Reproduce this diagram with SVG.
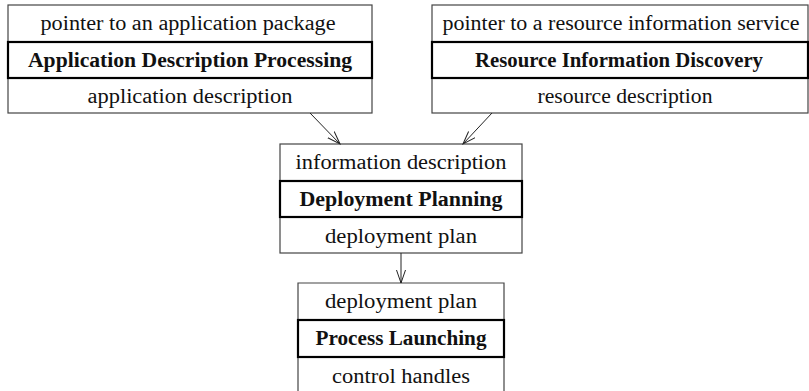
<svg xmlns="http://www.w3.org/2000/svg" width="809" height="391" viewBox="0 0 809 391">
<defs>
<style>
.outer{fill:#fff;stroke:#444;stroke-width:1.2}
.bold{fill:none;stroke:#000;stroke-width:2.2}
text{font-family:"Liberation Serif","DejaVu Serif",serif;font-size:20px;fill:#111;text-anchor:middle}
.b{font-weight:bold}
.conn{stroke:#222;stroke-width:1;fill:none}
</style>
<marker id="arr" markerWidth="16" markerHeight="12" refX="13" refY="5" orient="auto" markerUnits="userSpaceOnUse">
<path d="M0,0.5 L13,5 L0,9.5" fill="none" stroke="#222" stroke-width="1"/>
</marker>
</defs>
<g id="adp">
<rect class="outer" x="8" y="5" width="364" height="108"/>
<rect class="bold" x="8" y="42" width="364" height="36"/>
<text x="188" y="30" textLength="295" lengthAdjust="spacingAndGlyphs">pointer to an application package</text>
<text class="b" x="190" y="67" textLength="324" lengthAdjust="spacingAndGlyphs">Application Description Processing</text>
<text x="190" y="103" textLength="205" lengthAdjust="spacingAndGlyphs">application description</text>
</g>
<g id="rid">
<rect class="outer" x="432" y="5" width="376" height="108"/>
<rect class="bold" x="432" y="42" width="376" height="36"/>
<text x="621" y="30" textLength="357" lengthAdjust="spacingAndGlyphs">pointer to a resource information service</text>
<text class="b" x="619" y="67" textLength="288" lengthAdjust="spacingAndGlyphs">Resource Information Discovery</text>
<text x="625" y="103" textLength="175" lengthAdjust="spacingAndGlyphs">resource description</text>
</g>
<g id="dp">
<rect class="outer" x="280" y="144" width="242" height="109"/>
<rect class="bold" x="280" y="181" width="242" height="36"/>
<text x="401" y="169" textLength="211" lengthAdjust="spacingAndGlyphs">information description</text>
<text class="b" x="401" y="206" textLength="203" lengthAdjust="spacingAndGlyphs">Deployment Planning</text>
<text x="401" y="243" textLength="152" lengthAdjust="spacingAndGlyphs">deployment plan</text>
</g>
<g id="pl">
<path class="outer" d="M298,392 L298,283 L504,283 L504,392"/>
<rect class="bold" x="298" y="320" width="206" height="37"/>
<text x="401" y="308" textLength="152" lengthAdjust="spacingAndGlyphs">deployment plan</text>
<text class="b" x="401" y="345" textLength="171" lengthAdjust="spacingAndGlyphs">Process Launching</text>
<text x="401" y="383" textLength="138" lengthAdjust="spacingAndGlyphs">control handles</text>
</g>
<g id="connectors">
<line class="conn" x1="310" y1="113" x2="340" y2="144" marker-end="url(#arr)"/>
<line class="conn" x1="492" y1="113" x2="463" y2="144" marker-end="url(#arr)"/>
<line class="conn" x1="401" y1="253" x2="401" y2="283" marker-end="url(#arr)"/>
</g>
</svg>
